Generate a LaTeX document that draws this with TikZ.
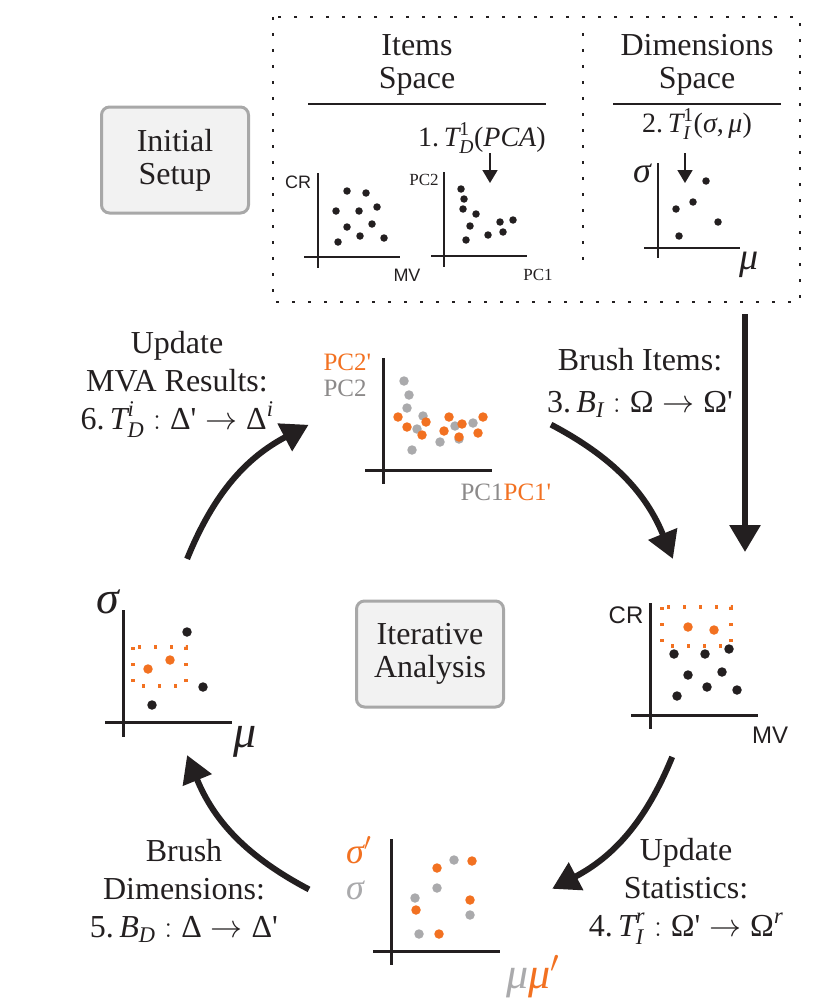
\documentclass[tikz,border=0pt]{standalone}
\usepackage{fix-cm}
\usepackage{amsmath}
\usepackage{fontspec}
\setmainfont{Liberation Serif}
\setsansfont{Liberation Sans}
\usetikzlibrary{arrows.meta}

\definecolor{ink}{RGB}{35,31,32}
\definecolor{brushed}{RGB}{242,113,33}
\definecolor{prior}{RGB}{170,170,172}
\definecolor{priortext}{RGB}{140,138,138}
\definecolor{panel}{RGB}{242,242,242}
\definecolor{rim}{RGB}{168,168,168}
\def\ti#1{\text{\itshape #1}}
\def\q{\textquotesingle}
\tikzstyle{stage}=[draw=rim,fill=panel,rounded corners=8pt,line width=3pt,
                   minimum width=147pt,minimum height=106pt,align=center,
                   text=ink,font=\fontsize{32}{33}\selectfont]
\tikzstyle{heading}=[align=center,text=ink,font=\fontsize{32}{33}\selectfont]
\tikzstyle{opcaption}=[align=center,text=ink,font=\fontsize{32}{38}\selectfont]
\tikzstyle{opsmall}=[text=ink,font=\fontsize{28}{32}\selectfont]
\tikzstyle{spacebox}=[draw=ink,line width=2.7pt,dash pattern=on 2.7pt off 13.3pt]
\tikzstyle{brushbox}=[draw=brushed,line width=3.2pt,dash pattern=on 3.2pt off 12.8pt]
\tikzstyle{rule}=[draw=ink,line width=2pt]
\tikzstyle{axis}=[draw=ink,line width=2.3pt]
\tikzstyle{bigaxis}=[draw=ink,line width=3pt]
\tikzstyle{dot}=[circle,fill=ink,inner sep=0pt,minimum size=7.5pt]
\tikzstyle{bigdot}=[circle,fill=ink,inner sep=0pt,minimum size=9.5pt]
\tikzstyle{flow}=[draw=ink,line width=6pt,-{Triangle[length=27pt,width=30pt]}]
\tikzstyle{hint}=[draw=ink,line width=1.8pt,-{Triangle[length=13pt,width=15pt]}]
\tikzstyle{sanslab}=[text=ink,font=\sffamily\fontsize{18}{20}\selectfont]
\tikzstyle{seriflab}=[text=ink,font=\fontsize{17}{19}\selectfont]

\begin{document}
\begin{tikzpicture}[x=1pt,y=1pt]
  \useasboundingbox (0,0) rectangle (829,-998);

  % Initial setup
  \node[stage] (setup) at (175,-160) {Initial\\Setup};
  \draw[spacebox] (273,-17) rectangle (800,-302);
  \draw[spacebox] (583,-33) -- (583,-270);

  \node[heading] (items) at (417,-65) {Items\\Space};
  \node[heading] (dims) at (697,-65) {Dimensions\\Space};
  \draw[rule] (308,-104) -- (546,-104);
  \draw[rule] (613,-104) -- (781,-104);

  % Items space plots
  \draw[axis] (318,-173) -- (318,-268);
  \draw[axis] (304,-257) -- (400,-257);
  \node[sanslab] (cr0) at (298,-182) {CR};
  \node[sanslab] (mv0) at (407,-275) {MV};
  \foreach \x/\y [count=\i] in {347/191,366/193,336/211,359/211,377/207,
      347/227,372/224,338/242,360/236,384/238}
    \node[dot] (raw\i) at (\x,-\y) {};

  \node[opsmall] (pca) at (482,-138) {1.\,$\ti{T}^{\text{1}}_{\ti{D}}$(\textit{PCA})};
  \coordinate (pcatop) at (490,-153);
  \coordinate (pcabot) at (490,-183);
  \draw[hint] (pcatop) -- (pcabot);

  \draw[axis] (444,-172) -- (444,-267);
  \draw[axis] (431,-256) -- (527,-256);
  \node[seriflab] (pctwo) at (424,-180) {PC2};
  \node[seriflab] (pcone) at (538,-275) {PC1};
  \foreach \x/\y [count=\i] in {461/189,464/199,463/209,476/214,470/226,
      466/240,488/235,500/222,513/220,503/232}
    \node[dot] (pc\i) at (\x,-\y) {};

  % Dimensions space plot
  \node[opsmall] (stat) at (697,-124) {2.\,$\ti{T}^{\text{1}}_{\ti{I}}$(\textit{σ},\,\textit{μ})};
  \coordinate (stattop) at (685,-153);
  \coordinate (statbot) at (685,-183);
  \draw[hint] (stattop) -- (statbot);

  \draw[axis] (658,-163) -- (658,-258);
  \draw[axis] (644,-248) -- (740,-248);
  \node[text=ink,font=\fontsize{36}{40}\selectfont\itshape] (sig0) at (642,-173) {σ};
  \node[text=ink,font=\fontsize{38}{42}\selectfont\itshape] (mu0) at (749,-265) {μ};
  \foreach \x/\y [count=\i] in {706/181,693/202,676/209,718/222,679/236}
    \node[dot] (dim\i) at (\x,-\y) {};

  % Iterative analysis
  \node[stage] (iter) at (430,-654) {Iterative\\Analysis};

  % Updated PCA plot
  \draw[bigaxis] (383,-358) -- (383,-484);
  \draw[bigaxis] (365,-470) -- (492,-470);
  \node[anchor=west,text=brushed,font=\fontsize{25}{27}\selectfont] (pctwonew) at (320,-362) {PC2\q};
  \node[anchor=west,text=priortext,font=\fontsize{25}{27}\selectfont] (pctwoold) at (320,-388) {PC2};
  \node[anchor=west,font=\fontsize{25}{27}\selectfont] (pconeboth) at (457,-492)
    {\textcolor{priortext}{PC1}\textcolor{brushed}{PC1\q}};
  \foreach \x/\y [count=\i] in {404/381,409/395,407/408,423/416,417/429,
      412/450,440/442,455/426,459/439,473/423}
    \node[bigdot,fill=prior] (pcold\i) at (\x,-\y) {};
  \foreach \x/\y [count=\i] in {398/417,407/427,426/422,422/435,449/417,
      444/431,462/424,459/437,483/417,478/433}
    \node[bigdot,fill=brushed] (pcnew\i) at (\x,-\y) {};

  % Brushed items plot
  \draw[bigaxis] (650,-603) -- (650,-729);
  \draw[bigaxis] (631,-715) -- (758,-715);
  \node[sanslab,font=\sffamily\fontsize{24}{26}\selectfont] (cr1) at (626,-615) {CR};
  \node[sanslab,font=\sffamily\fontsize{24}{26}\selectfont] (mv1) at (770,-735) {MV};
  \draw[brushbox] (662,-607) rectangle (731,-646);
  \foreach \x/\y [count=\i] in {688/627,714/630}
    \node[bigdot,fill=brushed] (itsel\i) at (\x,-\y) {};
  \foreach \x/\y [count=\i] in {674/654,705/654,729/649,688/675,722/672,
      677/696,707/687,737/690}
    \node[bigdot] (itrest\i) at (\x,-\y) {};

  % Updated statistics plot
  \draw[bigaxis] (391,-839) -- (391,-965);
  \draw[bigaxis] (373,-951) -- (500,-951);
  \node[anchor=west,inner sep=0pt,text=brushed,font=\fontsize{36}{40}\selectfont] (signew) at (346,-850) {$\ti{σ}'$};
  \node[anchor=west,inner sep=0pt,text=prior,font=\fontsize{36}{40}\selectfont\itshape] (sigold) at (346,-890) {σ};
  \node[anchor=west,font=\fontsize{44}{48}\selectfont] (muboth) at (503,-977)
    {\textcolor{prior}{\itshape μ}\textcolor{brushed}{$\ti{μ}'$}};
  \foreach \x/\y [count=\i] in {454/860,437/888,415/898,470/915,419/934}
    \node[bigdot,fill=prior] (stold\i) at (\x,-\y) {};
  \foreach \x/\y [count=\i] in {472/861,437/868,470/900,416/910,439/934}
    \node[bigdot,fill=brushed] (stnew\i) at (\x,-\y) {};

  % Brushed dimensions plot
  \draw[bigaxis] (123,-610) -- (123,-737);
  \draw[bigaxis] (105,-722) -- (232,-722);
  \node[text=ink,font=\fontsize{46}{50}\selectfont\itshape] (sig1) at (108,-602) {σ};
  \node[text=ink,font=\fontsize{46}{50}\selectfont\itshape] (mu1) at (245,-742) {μ};
  \draw[brushbox] (133,-647) rectangle (186,-686);
  \foreach \x/\y [count=\i] in {148/669,170/660}
    \node[bigdot,fill=brushed] (dmsel\i) at (\x,-\y) {};
  \foreach \x/\y [count=\i] in {187/632,203/687,152/705}
    \node[bigdot] (dmrest\i) at (\x,-\y) {};

  % Operation captions
  \node[opcaption] (op6) at (177,-384)
    {Update\\MVA Results:\\6.\,$\ti{T}^{\ti{i}}_{\ti{D}}:\text{Δ\q}\rightarrow\text{Δ}^{\ti{i}}$};
  \node[opcaption] (op3) at (640,-383)
    {Brush Items:\\[4pt]3.\,$\ti{B}_{\ti{I}}:\text{Ω}\rightarrow\text{Ω\q}$};
  \node[opcaption] (op4) at (686,-891)
    {Update\\Statistics:\\4.\,$\ti{T}^{\ti{r}}_{\ti{I}}:\text{Ω\q}\rightarrow\text{Ω}^{\ti{r}}$};
  \node[opcaption] (op5) at (184,-891)
    {Brush\\Dimensions:\\5.\,$\ti{B}_{\ti{D}}:\text{Δ}\rightarrow\text{Δ\q}$};

  % Flow arrows
  \coordinate (setupout) at (745,-314);
  \coordinate (setupin) at (745,-552);
  \draw[flow] (setupout) -- (setupin);

  \coordinate (s3) at (551,-424.6);
  \coordinate (e3) at (672.9,-558.9);
  \coordinate (s4) at (672.2,-756.9);
  \coordinate (e4) at (552.2,-888.8);
  \coordinate (s5) at (309,-889.4);
  \coordinate (e5) at (187.1,-755.1);
  \coordinate (s6) at (187.1,-558.9);
  \coordinate (e6) at (308.6,-424.8);
  \draw[flow] (s3) to[bend left=20] (e3);
  \draw[flow] (s4) to[bend left=20] (e4);
  \draw[flow] (s5) to[bend left=20] (e5);
  \draw[flow] (s6) to[bend left=20] (e6);

\end{tikzpicture}
\end{document}
